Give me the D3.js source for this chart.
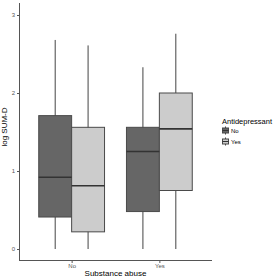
<!DOCTYPE html>
<html>
<head>
<meta charset="utf-8">
<script src="https://cdn.jsdelivr.net/npm/d3@7"></script>
<style>
  body { margin: 0; background: #fff; }
  text { font-family: "Liberation Sans", Arial, sans-serif; fill: #000; }
</style>
</head>
<body>
<div id="chart"></div>
<script>
// groups on the x axis and fill groups
const abuse = ["No", "Yes"];
const antidep = ["No", "Yes"];
// box stats: [abuse, antidep, lowerWhisker, q1, median, q3, upperWhisker]
const boxes = [
    ["No", "No", 0, 0.41, 0.92, 1.71, 2.68],
    ["No", "Yes", 0, 0.22, 0.81, 1.56, 2.61],
    ["Yes", "No", 0, 0.48, 1.25, 1.56, 2.33],
    ["Yes", "Yes", 0, 0.75, 1.54, 2.0, 2.76]
];
const yTicks = [0, 1, 2, 3];

var margin = { top: 3, right: 68, bottom: 19, left: 19 },
    width = 280 - margin.left - margin.right,
    height = 280 - margin.top - margin.bottom;

var svg = d3.select("#chart")
    .append("svg")
    .attr("width", 280)
    .attr("height", 280)
    .append("g")
    .attr("transform", "translate(" + margin.left + "," + margin.top + ")");

// discrete x: 0.6 units padding on each side like ggplot
var x = d3.scalePoint()
    .domain(abuse)
    .range([width * 0.6 / 2.2, width * 1.6 / 2.2]);
var step = width / 2.2;
var dodge = d3.scaleBand()
    .domain(antidep)
    .range([-step * 0.375, step * 0.375]);

var y = d3.scaleLinear()
    .domain([0, 3])
    .range([249 - margin.top, 15 - margin.top]);

var fill = d3.scaleOrdinal()
    .domain(antidep)
    .range(["#666666", "#cccccc"]);

// axes
var xAxis = svg.append("g")
    .attr("transform", "translate(0," + (height - 0.5) + ")")
    .call(d3.axisBottom(x).tickSize(2.5).tickPadding(1));
var yAxis = svg.append("g")
    .attr("transform", "translate(0.5,0)")
    .call(d3.axisLeft(y).tickValues(yTicks).tickFormat(d3.format("d")).tickSize(2.5).tickPadding(2));

xAxis.select(".domain").attr("d", "M0,0H" + width);
yAxis.select(".domain").attr("d", "M0," + (height) + "V0");
[xAxis, yAxis].forEach(a => {
    a.select(".domain").attr("stroke", "#555").attr("stroke-width", 1);
    a.selectAll(".tick line").attr("stroke", "#555");
    a.selectAll(".tick text").style("fill", "#555").style("font-size", "6px");
});

// whiskers
svg.selectAll(".whisker")
    .data(boxes)
    .enter()
    .append("line")
    .attr("class", "whisker")
    .attr("x1", d => x(d[0]) + dodge(d[1]) + dodge.bandwidth() / 2)
    .attr("x2", d => x(d[0]) + dodge(d[1]) + dodge.bandwidth() / 2)
    .attr("y1", d => y(d[2]))
    .attr("y2", d => y(d[6]))
    .attr("stroke", "#444")
    .attr("stroke-width", 1);

// boxes
svg.selectAll(".box")
    .data(boxes)
    .enter()
    .append("rect")
    .attr("class", "box")
    .attr("x", d => x(d[0]) + dodge(d[1]))
    .attr("width", dodge.bandwidth())
    .attr("y", d => y(d[5]))
    .attr("height", d => y(d[3]) - y(d[5]))
    .attr("fill", d => fill(d[1]))
    .attr("stroke", "#4a4a4a")
    .attr("stroke-width", 1);

// medians
svg.selectAll(".median")
    .data(boxes)
    .enter()
    .append("line")
    .attr("class", "median")
    .attr("x1", d => x(d[0]) + dodge(d[1]))
    .attr("x2", d => x(d[0]) + dodge(d[1]) + dodge.bandwidth())
    .attr("y1", d => y(d[4]))
    .attr("y2", d => y(d[4]))
    .attr("stroke", "#333")
    .attr("stroke-width", 1.6);

// axis titles
svg.append("text")
    .attr("x", width / 2)
    .attr("y", 276 - margin.top)
    .attr("text-anchor", "middle")
    .style("font-size", "8px")
    .text("Substance abuse");

svg.append("text")
    .attr("transform", "translate(" + (7 - margin.left) + "," + (127 - margin.top) + ") rotate(-90)")
    .attr("text-anchor", "middle")
    .style("font-size", "8px")
    .text("log SUM-D");

// legend
var legend = svg.append("g")
    .attr("transform", "translate(" + (222 - margin.left) + "," + (124 - margin.top) + ")");
legend.append("text")
    .style("font-size", "7.5px")
    .text("Antidepressant");
var keys = legend.selectAll(".key")
    .data(antidep)
    .enter()
    .append("g")
    .attr("class", "key")
    .attr("transform", (d, i) => "translate(0," + (2.5 + i * 11) + ")");
keys.append("line")
    .attr("x1", 3.5).attr("x2", 3.5).attr("y1", 0).attr("y2", 8)
    .attr("stroke", "#444");
keys.append("rect")
    .attr("x", 0.5).attr("y", 1.5).attr("width", 6).attr("height", 5)
    .attr("fill", d => fill(d))
    .attr("stroke", "#4a4a4a");
keys.append("line")
    .attr("x1", 0.5).attr("x2", 6.5).attr("y1", 4).attr("y2", 4)
    .attr("stroke", "#333");
keys.append("text")
    .attr("x", 9)
    .attr("y", 6.5)
    .style("font-size", "6px")
    .text(d => d);
</script>
</body>
</html>
